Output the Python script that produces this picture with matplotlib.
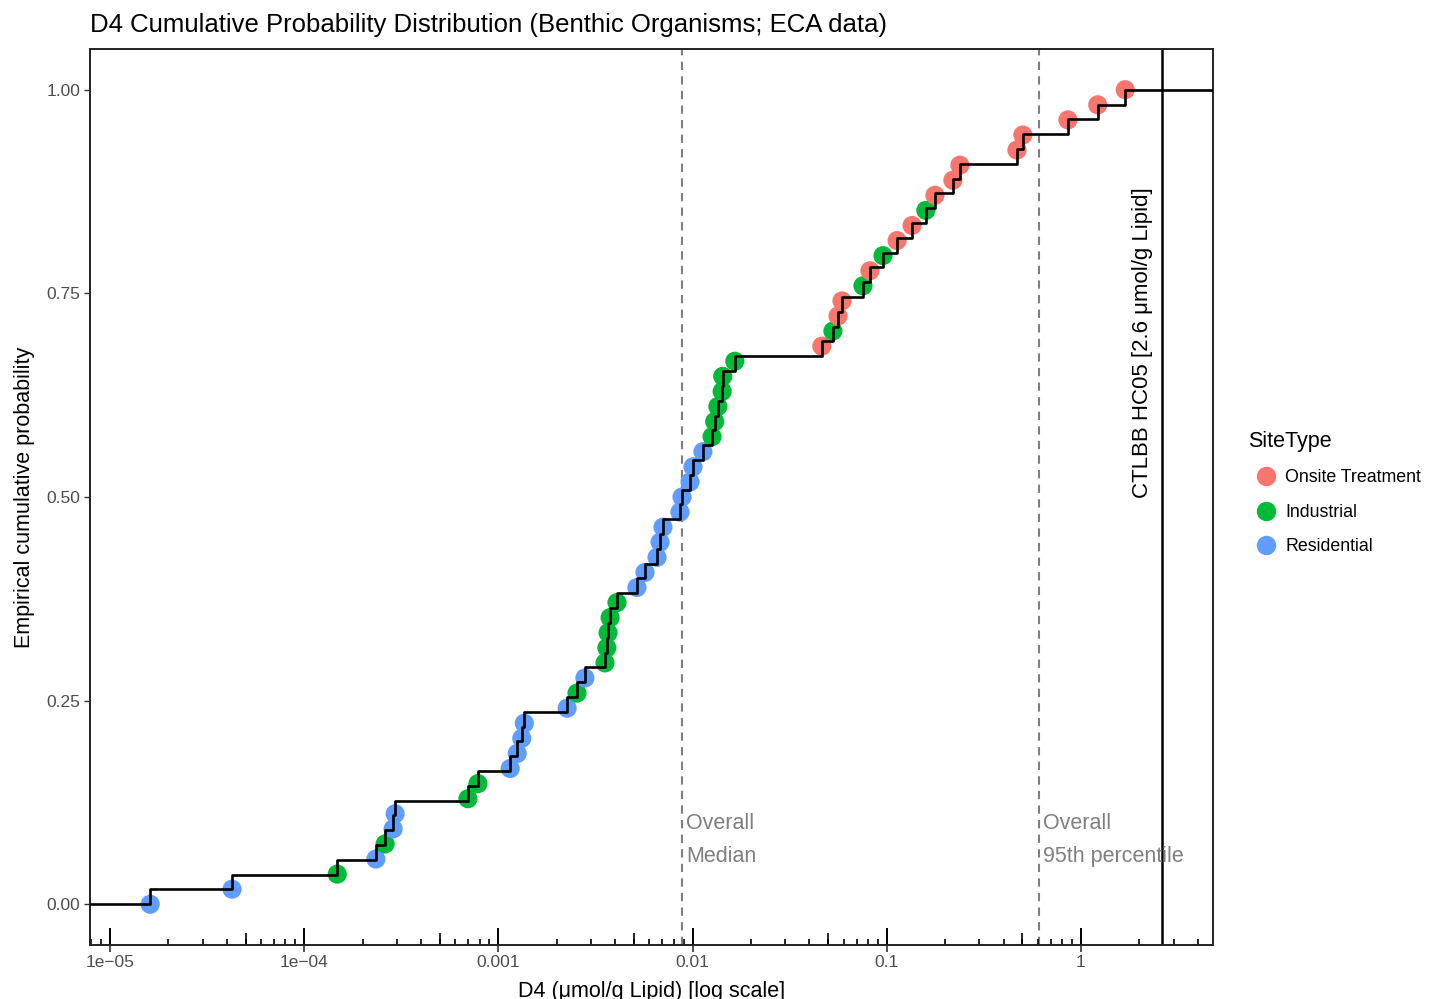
import numpy as np
import matplotlib
matplotlib.use("Agg")
import matplotlib.pyplot as plt
from matplotlib.lines import Line2D
from matplotlib.ticker import FixedLocator, NullFormatter

plt.rcParams["font.family"] = ["Liberation Sans", "DejaVu Sans"]

# D4 concentrations (umol/g lipid), sorted, with site type of each sample
d4 = [1.61e-5, 4.25e-5, 1.48e-4, 2.34e-4, 2.61e-4, 2.87e-4, 2.94e-4,
      6.97e-4, 7.85e-4, 1.15e-3, 1.25e-3, 1.32e-3, 1.36e-3, 2.26e-3,
      2.54e-3, 2.79e-3, 3.54e-3, 3.62e-3, 3.67e-3, 3.76e-3, 4.08e-3,
      5.17e-3, 5.69e-3, 6.56e-3, 6.80e-3, 7.04e-3, 8.61e-3, 8.82e-3,
      9.70e-3, 1.005e-2, 1.13e-2, 1.26e-2, 1.30e-2, 1.35e-2, 1.42e-2,
      1.43e-2, 1.65e-2, 4.63e-2, 5.28e-2, 5.61e-2, 5.88e-2, 7.54e-2,
      8.19e-2, 9.56e-2, 0.113, 0.135, 0.159, 0.177, 0.219, 0.238,
      0.468, 0.502, 0.857, 1.22, 1.69]
site = ["Residential", "Residential", "Industrial", "Residential", "Industrial",
        "Residential", "Residential", "Industrial", "Industrial", "Residential",
        "Residential", "Residential", "Residential", "Residential", "Industrial",
        "Residential", "Industrial", "Industrial", "Industrial", "Industrial",
        "Industrial", "Residential", "Residential", "Residential", "Residential",
        "Residential", "Residential", "Residential", "Residential", "Residential",
        "Residential", "Industrial", "Industrial", "Industrial", "Industrial",
        "Industrial", "Industrial", "Onsite Treatment", "Industrial", "Onsite Treatment",
        "Onsite Treatment", "Industrial", "Onsite Treatment", "Industrial", "Onsite Treatment",
        "Onsite Treatment", "Industrial", "Onsite Treatment", "Onsite Treatment", "Onsite Treatment",
        "Onsite Treatment", "Onsite Treatment", "Onsite Treatment", "Onsite Treatment", "Onsite Treatment"]
site_types = ["Onsite Treatment", "Industrial", "Residential"]
site_colors = ["#F8766D", "#00BA38", "#619CFF"]
hc05 = 2.6


def main():
    x = np.array(d4)
    n = len(x)
    ypts = np.arange(n) / (n - 1)
    colmap = dict(zip(site_types, site_colors))

    fig = plt.figure(figsize=(14.32, 9.99), dpi=100)
    ax = fig.add_axes([90 / 1432, 54 / 999, 1123 / 1432, 896 / 999])
    ax.set_xscale("log")
    xlim = (10 ** -5.103, 10 ** 0.680)
    ax.set_xlim(*xlim)
    ax.set_ylim(-0.05, 1.05)

    ax.scatter(x, ypts, s=190, c=[colmap[s] for s in site], linewidths=0, zorder=2)

    # ecdf step line
    xs = np.concatenate([[xlim[0]], x, [xlim[1]]])
    ys = np.concatenate([[0], np.arange(1, n + 1) / n, [1]])
    ax.step(xs, ys, where="post", color="black", lw=1.9, zorder=3)

    med = np.median(x)
    p95 = np.quantile(x, 0.95)
    for v in (med, p95):
        ax.axvline(v, color="#7F7F7F", ls=(0, (4, 3)), lw=1.5, zorder=1)
    ax.axvline(hc05, color="black", lw=1.8, zorder=1)

    tc = "#7F7F7F"
    fs = 15.5
    ax.annotate("Overall", xy=(med, 0.099), xytext=(3, 0), textcoords="offset points",
                color=tc, fontsize=fs, ha="left", va="center")
    ax.annotate("Median", xy=(med, 0.059), xytext=(3, 0), textcoords="offset points",
                color=tc, fontsize=fs, ha="left", va="center")
    ax.annotate("Overall", xy=(p95, 0.099), xytext=(3, 0), textcoords="offset points",
                color=tc, fontsize=fs, ha="left", va="center")
    ax.annotate("95th percentile", xy=(p95, 0.059), xytext=(3, 0), textcoords="offset points",
                color=tc, fontsize=fs, ha="left", va="center")
    ax.annotate("CTLBB HC05 [%.1f \u03bcmol/g Lipid]" % hc05, xy=(hc05, 0.69),
                xytext=(-6, 0), textcoords="offset points", rotation=90,
                fontsize=16, ha="right", va="center")

    # axis ticks, ggplot-like with log ticks inside
    decades = 10.0 ** np.arange(-5, 1)
    ax.set_xticks(decades)
    ax.set_xticklabels(["1e\u221205", "1e\u221204", "0.001", "0.01", "0.1", "1"])
    minors = [m * 10.0 ** k for k in range(-6, 1) for m in range(2, 10)]
    ax.xaxis.set_minor_locator(FixedLocator(minors))
    ax.xaxis.set_minor_formatter(NullFormatter())
    ax.tick_params(axis="x", which="major", direction="out", length=5, width=1.2,
                   color="#333333", labelsize=12.5, labelcolor="#4D4D4D", pad=2)
    ax.tick_params(axis="x", which="minor", direction="in", length=4.3, width=1.2,
                   color="black")
    tr = ax.get_xaxis_transform()
    ax.vlines(decades, 0, 0.019, transform=tr, color="black", lw=1.4)
    ax.vlines(5 * 10.0 ** np.arange(-6, 1), 0, 0.0134, transform=tr, color="black", lw=1.2)

    ax.set_yticks([0, 0.25, 0.5, 0.75, 1.0])
    ax.set_yticklabels(["0.00", "0.25", "0.50", "0.75", "1.00"])
    ax.tick_params(axis="y", direction="out", length=4, width=1.0, color="#333333",
                   labelsize=12.5, labelcolor="#4D4D4D", pad=3)

    for sp in ax.spines.values():
        sp.set_linewidth(1.4)
        sp.set_color("#222222")

    ax.set_xlabel("D4 (\u03bcmol/g Lipid) [log scale]", fontsize=15.5, labelpad=8)
    ax.set_ylabel("Empirical cumulative probability", fontsize=15.5, labelpad=8)
    ax.set_title("D4 Cumulative Probability Distribution (Benthic Organisms; ECA data)",
                 fontsize=18.5, loc="left", pad=12)

    handles = [Line2D([], [], ls="", marker="o", markersize=14, color=c, markeredgewidth=0)
               for c in site_colors]
    fig.legend(handles, site_types, title="SiteType", loc="upper left",
               bbox_to_anchor=(1232 / 1432, 1 - 415 / 999), frameon=False,
               fontsize=12.8, title_fontsize=15.5, handletextpad=0.1,
               labelspacing=0.98, alignment="left")

    fig.savefig("out.png", dpi=100)


if __name__ == "__main__":
    main()
